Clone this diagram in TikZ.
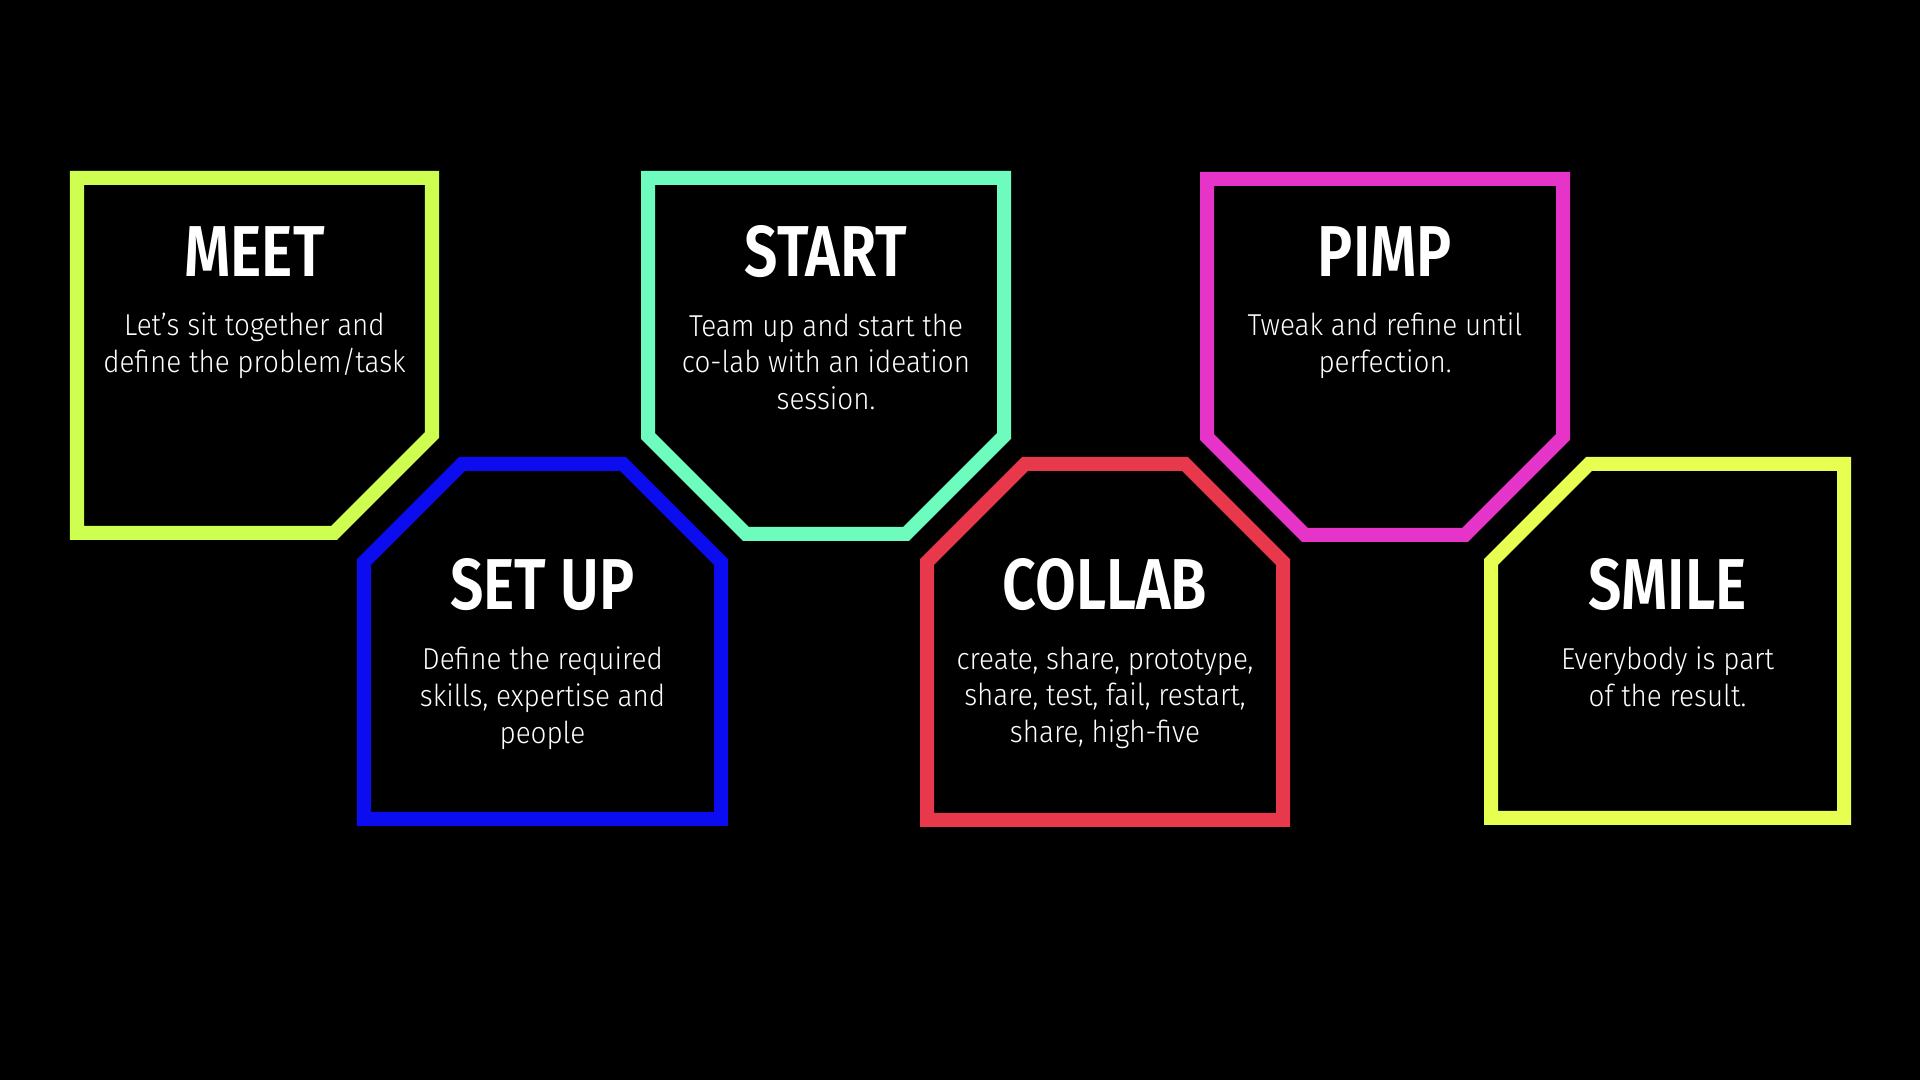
\documentclass[tikz,border=0pt]{standalone}
\usepackage{fontspec}
\setmainfont{Fira Sans}
\IfFontExistsTF{Fira Sans Light}
  {\newfontfamily\bodyfont[FakeStretch=0.92]{Fira Sans Light}}
  {\newfontfamily\bodyfont[FakeStretch=0.92]{Fira Sans}}
\IfFontExistsTF{Fira Sans SemiBold}
  {\newfontfamily\headfont[FakeStretch=0.82]{Fira Sans SemiBold}}
  {\newfontfamily\headfont[FakeStretch=0.82]{Fira Sans}}
\usepackage{xcolor}
\usepackage{tikz}
\usetikzlibrary{positioning}
\definecolor{meetc}{RGB}{206,255,80}
\definecolor{setupc}{RGB}{12,12,240}
\definecolor{startc}{RGB}{110,252,190}
\definecolor{collabc}{RGB}{232,56,76}
\definecolor{pimpc}{RGB}{230,52,200}
\definecolor{smilec}{RGB}{230,255,80}
\tikzset{
  frm/.style={line width=1.4mm,line join=miter},
  ttl/.style={text=white,font=\headfont\fontsize{20.5}{24}\selectfont,anchor=base,inner sep=0pt},
  txt/.style={text=white,font=\bodyfont\fontsize{8.6}{10.5}\selectfont,align=center,inner sep=0pt},
}

\begin{document}
\begin{tikzpicture}[x=0.01cm,y=-0.01cm,node distance=3.4mm]
  \fill[black] (0,0) rectangle (1920,1080);
  % upper row
  \draw[frm,meetc] (77,178) -- (432,178) -- (432,435) -- (334,533) -- (77,533) -- cycle;
  \draw[frm,startc] (648,178) -- (1004,178) -- (1004,436) -- (906,534) -- (746,534) -- (648,436) -- cycle;
  \draw[frm,pimpc] (1207,179) -- (1563,179) -- (1563,437) -- (1465,535) -- (1305,535) -- (1207,437) -- cycle;
  % lower row
  \draw[frm,setupc] (364,819) -- (364,562) -- (462,464) -- (623,464) -- (721,562) -- (721,819) -- cycle;
  \draw[frm,collabc] (927,820) -- (927,562) -- (1025,464) -- (1185,464) -- (1283,562) -- (1283,820) -- cycle;
  \draw[frm,smilec] (1491,818) -- (1491,562) -- (1589,464) -- (1844,464) -- (1844,818) -- cycle;
  \node[ttl] (meet) at (254.5,277) {MEET};
  \node[txt,below=of meet] (meettxt) {Let’s sit together and\\define the problem/task};
  \node[ttl] (start) at (826,277) {START};
  \node[txt,below=of start] (starttxt) {Team up and start the\\co-lab with an ideation\\session.};
  \node[ttl] (pimp) at (1385,277) {PIMP};
  \node[txt,below=of pimp] (pimptxt) {Tweak and refine until\\perfection.};
  \node[ttl] (setup) at (542.5,610) {SET UP};
  \node[txt,below=of setup] (setuptxt) {Define the required\\skills, expertise and\\people};
  \node[ttl] (collab) at (1105,610) {COLLAB};
  \node[txt,below=of collab] (collabtxt) {create, share, prototype,\\share, test, fail, restart,\\share, high-five};
  \node[ttl] (smile) at (1667.5,610) {SMILE};
  \node[txt,below=of smile] (smiletxt) {Everybody is part\\of the result.};
\end{tikzpicture}
\end{document}
